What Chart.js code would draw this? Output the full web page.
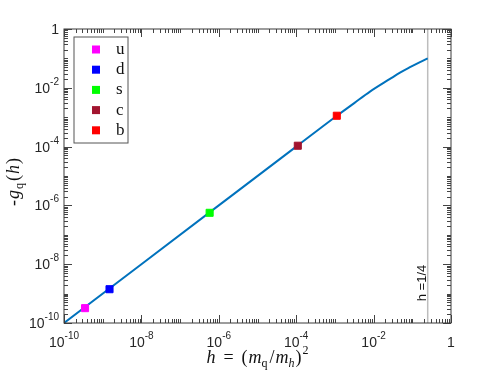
<!DOCTYPE html>
<html>
<head>
<meta charset="utf-8">
<script src="https://cdn.jsdelivr.net/npm/chart.js@4"></script>
<style>
  body { margin: 0; background: #fff; }
  canvas { display: block; }
</style>
</head>
<body>
<canvas id="gq" width="498" height="375"></canvas>
<script>
// curve -g_q(h)
const curveH = [1e-10, 1e-8, 1e-6, 1e-4, 1e-3, 3.16e-3, 8.07e-3, 2.65e-2, 4.81e-2, 8.71e-2, 0.158, 0.25];
const curveG = [1e-10, 1e-8, 1e-6, 1e-4, 1e-3, 3.02e-3, 7.41e-3, 2.0e-2, 3.27e-2, 5.01e-2, 7.5e-2, 0.1];

// quark markers
const quarkNames = ['u', 'd', 's', 'c', 'b'];
const quarkH = [3.5e-10, 1.5e-9, 5.8e-7, 1.1e-4, 1.12e-3];
const quarkG = [3.2e-10, 1.41e-9, 5.6e-7, 1.07e-4, 1.12e-3];
const quarkColors = ['#FF00FF', '#0000FF', '#00FF00', '#A2142F', '#FF0000'];

// threshold line and axis range
const hThreshold = 0.25;
const thresholdLabel = 'h =1/4';
const axisMin = 1e-10;
const axisMax = 1;
const labelDecades = [-10, -8, -6, -4, -2, 0];

const SANS = '"Liberation Sans", Arial, sans-serif';
const SERIF = '"Liberation Serif", "Times New Roman", serif';

function drawMath(ctx, items) {
    // items: {t, it, sz, dy, gap}; drawn centred on x=0, baseline y=0
    let total = 0;
    items.forEach(p => {
        ctx.font = (p.it ? 'italic ' : '') + p.sz + 'px ' + SERIF;
        p.w = ctx.measureText(p.t).width;
        total += p.w + (p.gap || 0);
    });
    let x = -total / 2;
    ctx.textAlign = 'left';
    ctx.textBaseline = 'alphabetic';
    items.forEach(p => {
        ctx.font = (p.it ? 'italic ' : '') + p.sz + 'px ' + SERIF;
        ctx.fillText(p.t, x, p.dy || 0);
        x += p.w + (p.gap || 0);
    });
}

function powerLabel(ctx, d, x, y, align) {
    ctx.textBaseline = 'alphabetic';
    if (d === 0) {
        ctx.font = '14px ' + SANS;
        ctx.textAlign = align;
        ctx.fillText('1', x, y);
        return;
    }
    ctx.font = '14px ' + SANS;
    const wb = ctx.measureText('10').width;
    ctx.font = '10px ' + SANS;
    const ws = ctx.measureText('-' + Math.abs(d)).width;
    let x0 = align === 'center' ? x - (wb + ws) / 2 : x - (wb + ws);
    ctx.textAlign = 'left';
    ctx.font = '14px ' + SANS;
    ctx.fillText('10', x0, y);
    ctx.font = '10px ' + SANS;
    ctx.fillText('-' + Math.abs(d), x0 + wb, y - 8);
}

const axesPlugin = {
    id: 'matlabAxes',
    afterDatasetsDraw(chart) {
        const ctx = chart.ctx;
        const a = chart.chartArea;
        const xs = chart.scales.x, ys = chart.scales.y;
        ctx.save();

        // threshold label
        ctx.save();
        ctx.translate(xs.getPixelForValue(hThreshold) - 2, 283);
        ctx.rotate(-Math.PI / 2);
        ctx.fillStyle = '#111';
        ctx.font = '13px ' + SANS;
        ctx.textAlign = 'center';
        ctx.textBaseline = 'alphabetic';
        ctx.fillText(thresholdLabel, 0, 0);
        ctx.restore();

        // inward ticks on all four sides
        ctx.strokeStyle = '#444';
        ctx.lineWidth = 1;
        ctx.beginPath();
        for (let d = -10; d <= 0; d++) {
            for (let k = 1; k <= 9; k++) {
                const v = k * Math.pow(10, d);
                if (v > axisMax) break;
                const major = k === 1 && d % 2 === 0;
                const len = major ? 8 : 4;
                const px = Math.round(xs.getPixelForValue(v)) + 0.5;
                ctx.moveTo(px, a.bottom); ctx.lineTo(px, a.bottom - len);
                ctx.moveTo(px, a.top); ctx.lineTo(px, a.top + len);
                const py = Math.round(ys.getPixelForValue(v)) + 0.5;
                ctx.moveTo(a.left, py); ctx.lineTo(a.left + len, py);
                ctx.moveTo(a.right, py); ctx.lineTo(a.right - len, py);
            }
        }
        ctx.stroke();

        // frame
        ctx.strokeStyle = '#3a3a3a';
        ctx.strokeRect(a.left, a.top, a.right - a.left, a.bottom - a.top);

        // tick labels
        ctx.fillStyle = '#262626';
        labelDecades.forEach(d => {
            const v = Math.pow(10, d);
            powerLabel(ctx, d, xs.getPixelForValue(v), a.bottom + 24, 'center');
            powerLabel(ctx, d, a.left - 5, ys.getPixelForValue(v) + 5, 'right');
        });

        // axis titles
        ctx.fillStyle = '#111';
        ctx.save();
        ctx.translate((a.left + a.right) / 2, 363);
        drawMath(ctx, [
            { t: 'h', it: true, sz: 18, gap: 8 },
            { t: '=', sz: 18, gap: 8 },
            { t: '(', sz: 18, gap: 1 },
            { t: 'm', it: true, sz: 18 },
            { t: 'q', sz: 12, dy: 4, gap: 2 },
            { t: '/', sz: 18, gap: 1 },
            { t: 'm', it: true, sz: 18 },
            { t: 'h', it: true, sz: 12, dy: 4, gap: 1 },
            { t: ')', sz: 18, gap: 1 },
            { t: '2', sz: 12, dy: -9 }
        ]);
        ctx.restore();

        ctx.save();
        ctx.translate(19, (a.top + a.bottom) / 2 + 6);
        ctx.rotate(-Math.PI / 2);
        drawMath(ctx, [
            { t: '-', sz: 18, gap: 1 },
            { t: 'g', it: true, sz: 18, gap: 1 },
            { t: 'q', sz: 12, dy: 4, gap: 2 },
            { t: '(', sz: 18, gap: 1 },
            { t: 'h', it: true, sz: 18, gap: 1 },
            { t: ')', sz: 18 }
        ]);
        ctx.restore();

        // legend box
        const lx = 74, ly = 37, lw = 54, lh = 106;
        ctx.fillStyle = '#fff';
        ctx.fillRect(lx, ly, lw, lh);
        ctx.strokeStyle = '#555';
        ctx.strokeRect(lx, ly, lw, lh);
        quarkNames.forEach((name, i) => {
            const cy = ly + 12.5 + i * 20.2;
            ctx.fillStyle = quarkColors[i];
            ctx.fillRect(lx + 18, cy - 4, 8, 8);
            ctx.fillStyle = '#111';
            ctx.font = '17px ' + SERIF;
            ctx.textAlign = 'left';
            ctx.textBaseline = 'middle';
            ctx.fillText(name, lx + 42, cy);
        });

        ctx.restore();
    }
};

const datasets = [];
quarkNames.forEach((name, i) => {
    datasets.push({
        label: name,
        data: [{ x: quarkH[i], y: quarkG[i] }],
        showLine: false,
        pointStyle: 'rect',
        pointRadius: 5,
        pointBorderWidth: 1,
        pointBackgroundColor: quarkColors[i],
        pointBorderColor: quarkColors[i],
        order: 0
    });
});
datasets.push({
    label: 'curve',
    data: curveH.map((h, i) => ({ x: h, y: curveG[i] })),
    borderColor: '#0072BD',
    borderWidth: 2,
    pointRadius: 0,
    cubicInterpolationMode: 'monotone',
    order: 1
});
datasets.push({
    label: 'threshold',
    data: [{ x: hThreshold, y: axisMin }, { x: hThreshold, y: axisMax }],
    borderColor: '#bdbdbd',
    borderWidth: 1.5,
    pointRadius: 0,
    order: 2
});

new Chart(document.getElementById('gq').getContext('2d'), {
    type: 'line',
    data: { datasets: datasets },
    options: {
        responsive: false,
        animation: false,
        layout: {
            autoPadding: false,
            padding: { left: 64, right: 47, top: 29, bottom: 52 }
        },
        scales: {
            x: {
                type: 'logarithmic', min: axisMin, max: axisMax,
                ticks: { display: false },
                grid: { display: false, drawTicks: false },
                border: { display: false }
            },
            y: {
                type: 'logarithmic', min: axisMin, max: axisMax,
                ticks: { display: false },
                grid: { display: false, drawTicks: false },
                border: { display: false }
            }
        },
        plugins: {
            legend: { display: false },
            tooltip: { enabled: false }
        }
    },
    plugins: [axesPlugin]
});
</script>
</body>
</html>
